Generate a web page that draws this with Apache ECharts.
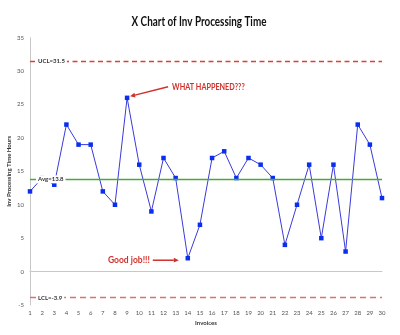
<!DOCTYPE html>
<html><head><meta charset="utf-8">
<script src="https://cdn.jsdelivr.net/npm/echarts@6/dist/echarts.min.js"></script>
<style>html,body{margin:0;padding:0;background:#fff}#c{width:400px;height:335px}</style>
</head><body><div id="c"></div>
<script>
var invoices = ['1','2','3','4','5','6','7','8','9','10','11','12','13','14','15','16','17','18','19','20','21','22','23','24','25','26','27','28','29','30'];
var hours = [12,14,13,22,19,19,12,10,26,16,9,17,14,2,7,17,18,14,17,16,14,4,10,16,5,16,3,22,19,11];
var ucl = 31.5;
var avg = 13.8;
var lcl = -3.9;
var yTicks = [-5,0,5,10,15,20,25,30,35];

var FONT = 'Lato, "Open Sans", sans-serif';
var chart = echarts.init(document.getElementById('c'), null, {renderer:'canvas'});

function limitLabel(txt){
  return {show:true, position:'right', offset:[1,0], formatter:txt, fontSize:6, fontWeight:'bold', color:'#333', fontFamily:FONT, backgroundColor:'#fff', padding:[1,2]};
}
function limitSeries(v, color, type, w){
  return {type:'line', data:[], z:5, silent:true,
    markLine:{silent:true, symbol:'none', animation:false, label:{show:false},
      lineStyle:{color:color, type:type, width:w},
      data:[{yAxis:v}]}};
}

chart.setOption({
  animation:false,
  grid:{left:30, right:18, top:37.7, bottom:30, containLabel:false, outerBoundsMode:'none'},
  xAxis:{type:'category', data:invoices, boundaryGap:false,
    name:'Invoices', nameLocation:'middle', nameGap:15, nameMoveOverlap:false,
    nameTextStyle:{fontSize:6, fontWeight:'bold', color:'#333', fontFamily:FONT},
    axisLine:{lineStyle:{color:'#c8c8c8', width:1}},
    axisTick:{show:false},
    axisLabel:{fontSize:6, color:'#555', margin:5, fontFamily:FONT, interval:0}},
  yAxis:{type:'value', min:yTicks[0], max:yTicks[yTicks.length-1], interval:5,
    name:'Inv Processing Time Hours', nameLocation:'middle', nameGap:18, nameMoveOverlap:false,
    nameTextStyle:{fontSize:6, fontWeight:'bold', color:'#333', fontFamily:FONT},
    splitLine:{show:false},
    axisLine:{show:true, lineStyle:{color:'#c8c8c8', width:1}},
    axisTick:{show:false},
    axisLabel:{fontSize:6, color:'#555', margin:6, fontFamily:FONT}},
  series:[
    {type:'line', data:hours, z:3,
      symbol:'rect', symbolSize:4.5,
      lineStyle:{color:'#3a3adb', width:1},
      itemStyle:{color:'#0a2ef0'}},
    limitSeries(ucl, '#d9403a', [5,3.5], 1.3),
    limitSeries(avg, '#48a838', 'solid', 1.3),
    limitSeries(lcl, '#e07070', [6,4], 1.3),
    {type:'line', data:[], z:8, silent:true,
      markPoint:{symbol:'rect', symbolSize:0, silent:true, animation:false,
        data:[
          {coord:[0,ucl], label:limitLabel('UCL=31.5')},
          {coord:[0,avg], label:limitLabel('Avg=13.8')},
          {coord:[0,lcl], label:limitLabel('LCL=-3.9')}
        ]}}
  ]
});

// annotations anchored to data points through the library's scales
var p9 = chart.convertToPixel({seriesIndex:0}, [8, hours[8]]);
var p14 = chart.convertToPixel({seriesIndex:0}, [13, hours[13]]);
var red = '#d0302b';
function arrow(x1,y1,x2,y2){
  var ang = Math.atan2(y2-y1, x2-x1), L=5, W=2.4;
  var bx = x2 - L*Math.cos(ang), by = y2 - L*Math.sin(ang);
  var nx = -Math.sin(ang), ny = Math.cos(ang);
  return [
    {type:'line', shape:{x1:x1,y1:y1,x2:bx,y2:by}, style:{stroke:red, lineWidth:1.5}, z:20},
    {type:'polygon', shape:{points:[[x2,y2],[bx+nx*W,by+ny*W],[bx-nx*W,by-ny*W]]}, style:{fill:red}, z:20}
  ];
}
var g = [];
g.push({type:'text', x:199, y:22, scaleX:0.76, originX:0, style:{text:'X Chart of Inv Processing Time', fill:'#111', font:'bold 13px '+FONT, verticalAlign:'middle', align:'center'}, z:20});
g = g.concat(arrow(p9[0]+41, p9[1]-11, p9[0]+3, p9[1]-1.5));
g.push({type:'text', x:p9[0]+45, y:p9[1]-11, scaleX:0.85, originX:0, style:{text:'WHAT HAPPENED???', fill:red, font:'bold 8.5px '+FONT, verticalAlign:'middle', align:'left'}, z:20});
g = g.concat(arrow(p14[0]-35, p14[1]+2, p14[0]-9, p14[1]+2));
g.push({type:'text', x:p14[0]-38, y:p14[1]+2, style:{text:'Good job!!!', fill:red, font:'bold 8.5px '+FONT, verticalAlign:'middle', align:'right'}, z:20});
chart.setOption({graphic:g});
</script></body></html>
